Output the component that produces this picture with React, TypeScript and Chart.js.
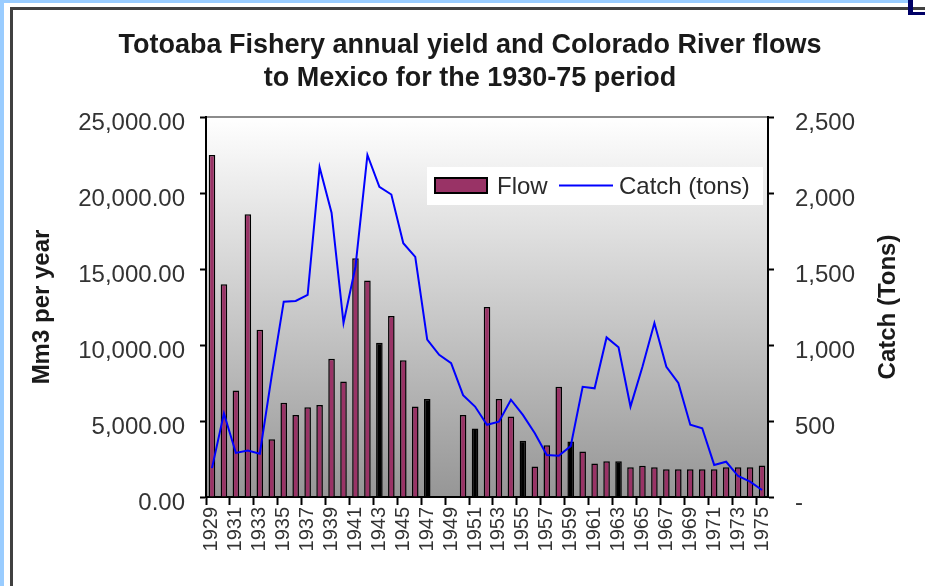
import React, { useEffect, useRef } from 'react';
import { Chart, registerables } from 'chart.js';

Chart.register(...registerables);

const years = [
  '1929', '1930', '1931', '1932', '1933', '1934', '1935', '1936', '1937', '1938',
  '1939', '1940', '1941', '1942', '1943', '1944', '1945', '1946', '1947', '1948',
  '1949', '1950', '1951', '1952', '1953', '1954', '1955', '1956', '1957', '1958',
  '1959', '1960', '1961', '1962', '1963', '1964', '1965', '1966', '1967', '1968',
  '1969', '1970', '1971', '1972', '1973', '1974', '1975',
];

const flow = [
  22500, 14000, 7000, 18600, 11000, 3800, 6200, 5400, 5900, 6050,
  9100, 7600, 15700, 14250, 10150, 11900, 9000, 5950, 6450, null,
  null, 5400, 4500, 12500, 6450, 5300, 3700, 2000, 3400, 7250,
  3650, 3000, 2200, 2350, 2350, 1950, 2050, 1950, 1820, 1820,
  1820, 1820, 1820, 1950, 1950, 1950, 2080,
];

const catchTons = [
  190, 550, 290, 305, 285, 800, 1285, 1290, 1330, 2170,
  1870, 1145, 1515, 2250, 2040, 1990, 1670, 1580, 1035, 935,
  880, 670, 595, 475, 495, 640, 540, 420, 276, 272,
  335, 725, 715, 1050, 985, 595, 857, 1145, 857, 750,
  475, 452, 211, 232, 138, 101, 46,
];

const darkBarYears = ['1943', '1947', '1951', '1955', '1959', '1963'];

const titleLines = [
  'Totoaba Fishery annual yield and Colorado River flows',
  'to Mexico for the 1930-75 period',
];
const leftAxisTitle = 'Mm3 per year';
const rightAxisTitle = 'Catch (Tons)';
const flowLabel = 'Flow';
const catchLabel = 'Catch (tons)';

const FONT = '"Liberation Sans", Arial, Helvetica, sans-serif';
const BAR_COLOR = '#993366';
const LINE_COLOR = '#0000ff';

const decorPlugin = {
  id: 'decor',
  beforeDraw(chart: any) {
    const { ctx, chartArea: a } = chart;
    ctx.save();
    const g = ctx.createLinearGradient(0, a.top, 0, a.bottom);
    g.addColorStop(0, '#ffffff');
    g.addColorStop(1, '#969696');
    ctx.fillStyle = g;
    ctx.fillRect(a.left, a.top, a.right - a.left, a.bottom - a.top);
    ctx.strokeStyle = '#8c8c8c';
    ctx.lineWidth = 2;
    ctx.beginPath();
    ctx.moveTo(a.left, a.top);
    ctx.lineTo(a.right, a.top);
    ctx.stroke();
    ctx.restore();
  },
  afterDraw(chart: any) {
    const { ctx, chartArea: a } = chart;
    ctx.save();
    // Title
    ctx.fillStyle = '#1a1a1a';
    ctx.textAlign = 'center';
    ctx.textBaseline = 'middle';
    ctx.font = `bold 27px ${FONT}`;
    ctx.fillText(titleLines[0], 458, 36);
    ctx.fillText(titleLines[1], 458, 69);

    // Axis titles
    const midY = (a.top + a.bottom) / 2;
    ctx.font = `bold 24px ${FONT}`;
    ctx.save();
    ctx.translate(30, midY);
    ctx.rotate(-Math.PI / 2);
    ctx.fillText(leftAxisTitle, 0, 0);
    ctx.restore();
    ctx.save();
    ctx.translate(876, midY);
    ctx.rotate(-Math.PI / 2);
    ctx.fillText(rightAxisTitle, 0, 0);
    ctx.restore();

    // Legend
    ctx.fillStyle = '#ffffff';
    ctx.fillRect(415, 157, 336, 38);
    ctx.fillStyle = BAR_COLOR;
    ctx.fillRect(423, 168, 52, 15);
    ctx.strokeStyle = '#000000';
    ctx.lineWidth = 2;
    ctx.strokeRect(423, 168, 52, 15);
    ctx.strokeStyle = LINE_COLOR;
    ctx.lineWidth = 2;
    ctx.beginPath();
    ctx.moveTo(547, 175.5);
    ctx.lineTo(601, 175.5);
    ctx.stroke();
    ctx.fillStyle = '#2a2a2a';
    ctx.font = `24px ${FONT}`;
    ctx.textAlign = 'left';
    ctx.fillText(flowLabel, 485, 177);
    ctx.fillText(catchLabel, 607, 177);
    ctx.restore();
  },
};

export default function App() {
  const ref = useRef<HTMLCanvasElement | null>(null);

  useEffect(() => {
    document.body.style.margin = '0';
    const canvas = ref.current;
    if (!canvas) return;
    const chart = new Chart(canvas, {
      type: 'bar',
      data: {
        labels: years,
        datasets: [
          {
            type: 'line',
            label: catchLabel,
            data: catchTons,
            yAxisID: 'y1',
            borderColor: LINE_COLOR,
            backgroundColor: LINE_COLOR,
            borderWidth: 2,
            pointRadius: 0,
            tension: 0,
            order: 0,
          } as any,
          {
            type: 'bar',
            label: flowLabel,
            data: flow,
            yAxisID: 'y',
            backgroundColor: years.map((y) => (darkBarYears.includes(y) ? '#000000' : BAR_COLOR)),
            borderColor: '#000000',
            borderWidth: 1.5,
            barPercentage: 0.55,
            categoryPercentage: 1,
            order: 1,
          } as any,
        ],
      },
      options: {
        responsive: false,
        animation: false,
        devicePixelRatio: 1,
        layout: { padding: { top: 107, left: 0, right: 0, bottom: 0 } },
        plugins: {
          legend: { display: false },
          title: { display: false },
          tooltip: { enabled: false },
        },
        scales: {
          x: {
            type: 'category',
            offset: true,
            grid: {
              display: true,
              drawOnChartArea: false,
              offset: true,
              tickLength: 8,
              tickWidth: 2,
              tickColor: (c: any) => (c.index % 2 === 0 ? '#000000' : 'rgba(0,0,0,0)'),
            },
            border: { display: true, color: '#000000', width: 2 },
            ticks: {
              autoSkip: false,
              minRotation: 90,
              maxRotation: 90,
              padding: 2,
              color: '#333333',
              font: { family: FONT, size: 20 },
              callback: (_v: any, i: number) => (i % 2 === 0 ? years[i] : ''),
            },
            afterFit: (s: any) => {
              s.height = 89;
            },
          },
          y: {
            type: 'linear',
            position: 'left',
            min: 0,
            max: 25000,
            grid: {
              drawOnChartArea: false,
              tickLength: 6,
              tickWidth: 2,
              tickColor: '#000000',
            },
            border: { display: true, color: '#000000', width: 2 },
            ticks: {
              stepSize: 5000,
              padding: 15,
              labelOffset: 6,
              color: '#333333',
              font: { family: FONT, size: 24 },
              callback: (v: any) =>
                Number(v).toLocaleString('en-US', { minimumFractionDigits: 2, maximumFractionDigits: 2 }),
            },
            afterFit: (s: any) => {
              s.width = 194;
            },
          },
          y1: {
            type: 'linear',
            position: 'right',
            min: 0,
            max: 2500,
            grid: {
              drawOnChartArea: false,
              tickLength: 6,
              tickWidth: 2,
              tickColor: '#000000',
            },
            border: { display: true, color: '#000000', width: 2 },
            ticks: {
              stepSize: 500,
              padding: 21,
              labelOffset: 6,
              color: '#333333',
              font: { family: FONT, size: 24 },
              callback: (v: any) => (Number(v) === 0 ? '-' : Number(v).toLocaleString('en-US')),
            },
            afterFit: (s: any) => {
              s.width = 157;
            },
          },
        },
      } as any,
      plugins: [decorPlugin],
    });
    return () => chart.destroy();
  }, []);

  return (
    <div style={{ position: 'relative', width: 925, height: 586, overflow: 'hidden', background: '#ffffff' }}>
      <canvas
        ref={ref}
        width={913}
        height={576}
        style={{ position: 'absolute', left: 12, top: 10, width: 913, height: 576, display: 'block' }}
      />
      <div style={{ position: 'absolute', left: 0, top: 0, width: 4, height: 586, background: '#99ccff' }} />
      <div style={{ position: 'absolute', left: 0, top: 0, width: 908, height: 3, background: '#99ccff' }} />
      <div style={{ position: 'absolute', left: 10, top: 7, width: 3, height: 579, background: '#404040' }} />
      <div style={{ position: 'absolute', left: 10, top: 7, width: 915, height: 3, background: '#404040' }} />
      <div style={{ position: 'absolute', left: 908, top: 0, width: 5, height: 15, background: '#000066' }} />
      <div style={{ position: 'absolute', left: 908, top: 12, width: 17, height: 3, background: '#000066' }} />
    </div>
  );
}
